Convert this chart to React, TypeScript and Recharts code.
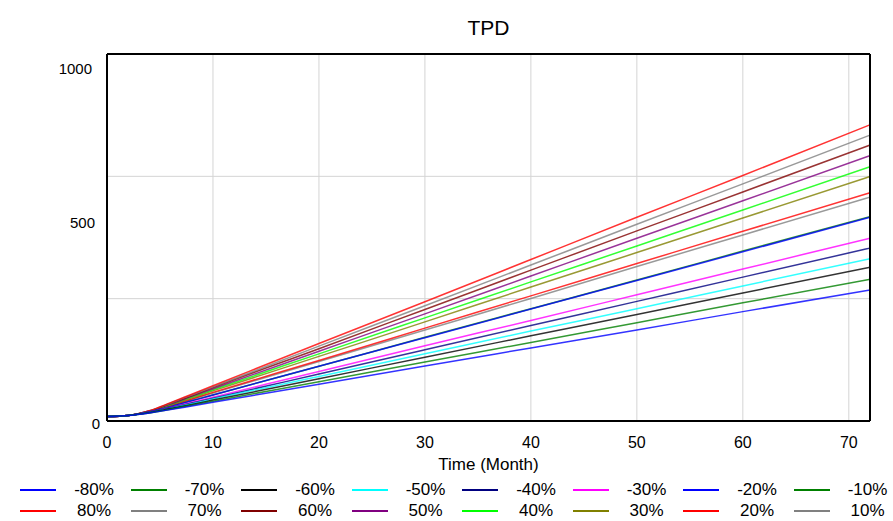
import React from "react";
import { LineChart, Line, XAxis, YAxis, CartesianGrid, ReferenceLine } from "recharts";

// months sampled along the x axis
const months = [0, 2, 4, 6, 8, 10, 20, 30, 40, 50, 60, 72];

// TPD per scenario
const neg80 = [12, 15, 22, 31, 41, 51, 100, 150, 199, 248, 298, 357];
const neg70 = [12, 15, 22, 32, 43, 54, 107, 161, 214, 268, 322, 386];
const neg60 = [12, 15, 23, 34, 45, 57, 115, 174, 232, 290, 349, 419];
const neg50 = [12, 15, 23, 35, 47, 60, 121, 183, 245, 306, 368, 442];
const neg40 = [12, 15, 24, 36, 49, 62, 128, 194, 260, 326, 392, 471];
const neg30 = [12, 15, 24, 37, 51, 65, 135, 205, 274, 344, 414, 498];
const neg20 = [12, 15, 25, 39, 55, 71, 149, 227, 305, 383, 461, 555];
const neg10 = [12, 15, 25, 39, 55, 71, 149, 228, 306, 384, 463, 557];
const pos80 = [12, 15, 28, 50, 73, 96, 211, 325, 440, 555, 669, 807];
const pos70 = [12, 15, 28, 49, 71, 93, 204, 314, 425, 536, 646, 779];
const pos60 = [12, 15, 27, 48, 69, 91, 197, 304, 411, 518, 624, 752];
const pos50 = [12, 15, 27, 46, 67, 88, 190, 292, 395, 498, 600, 723];
const pos40 = [12, 15, 26, 45, 65, 85, 183, 281, 379, 477, 575, 693];
const pos30 = [12, 15, 26, 44, 63, 82, 176, 270, 365, 459, 553, 666];
const pos20 = [12, 15, 26, 42, 60, 78, 165, 253, 341, 429, 517, 622];
const pos10 = [12, 15, 25, 42, 59, 76, 162, 248, 334, 421, 507, 610];

const xTicks = [0, 10, 20, 30, 40, 50, 60, 70];
const yTicks = [0, 500, 1000];
const yGrid = [1000 / 3, 2000 / 3];

// legend order (row 1 then row 2)
const series = [
  { key: "n80", label: "-80%", color: "#0000ff", values: neg80 },
  { key: "n70", label: "-70%", color: "#008000", values: neg70 },
  { key: "n60", label: "-60%", color: "#000000", values: neg60 },
  { key: "n50", label: "-50%", color: "#00ffff", values: neg50 },
  { key: "n40", label: "-40%", color: "#000080", values: neg40 },
  { key: "n30", label: "-30%", color: "#ff00ff", values: neg30 },
  { key: "n20", label: "-20%", color: "#0000ff", values: neg20 },
  { key: "n10", label: "-10%", color: "#008000", values: neg10 },
  { key: "p80", label: "80%", color: "#ff0000", values: pos80 },
  { key: "p70", label: "70%", color: "#808080", values: pos70 },
  { key: "p60", label: "60%", color: "#800000", values: pos60 },
  { key: "p50", label: "50%", color: "#800080", values: pos50 },
  { key: "p40", label: "40%", color: "#00ff00", values: pos40 },
  { key: "p30", label: "30%", color: "#808000", values: pos30 },
  { key: "p20", label: "20%", color: "#ff0000", values: pos20 },
  { key: "p10", label: "10%", color: "#808080", values: pos10 },
];

const data = months.map((m, i) => {
  const row: Record<string, number> = { month: m };
  series.forEach((s) => (row[s.key] = s.values[i]));
  return row;
});

const FONT = "'Liberation Sans', Arial, sans-serif";

// Vensim puts the y labels a bit off their gridline, mimic that
const YTick = (props: any) => {
  const { x, y, payload } = props;
  const dy: Record<number, number> = { 1000: 14, 500: -15, 0: 2 };
  const dx: Record<number, number> = { 1000: -7, 500: -4, 0: 1 };
  return (
    <text
      x={x + (dx[payload.value] || 0)}
      y={y + (dy[payload.value] || 0)}
      textAnchor="end"
      dominantBaseline="central"
      fontSize={15}
      fontFamily={FONT}
      fill="#000"
    >
      {payload.value}
    </text>
  );
};

export default function App() {
  const drawOrder = [...series].reverse();
  return (
    <div style={{ position: "absolute", left: 0, top: 0, width: 893, height: 521, background: "#fff", fontFamily: FONT, overflow: "hidden" }}>
      <div style={{ position: "absolute", left: 0, width: 977, top: 16, textAlign: "center", fontSize: 21, color: "#000" }}>
        TPD
      </div>
      <LineChart width={893} height={521} data={data} margin={{ top: 54, right: 23, bottom: 70, left: 47 }}>
        <CartesianGrid horizontal={false} stroke="#d4d4d4" strokeWidth={1} />
        {yGrid.map((v) => (
          <ReferenceLine key={v} y={v} stroke="#d4d4d4" strokeWidth={1} />
        ))}
        <XAxis
          dataKey="month"
          type="number"
          domain={[0, 72]}
          ticks={xTicks}
          height={30}
          tickLine={false}
          axisLine={{ stroke: "#000", strokeWidth: 2 }}
          tick={{ fontSize: 16, fill: "#000", fontFamily: FONT }}
          tickMargin={10}
        />
        <YAxis
          type="number"
          domain={[0, 1000]}
          ticks={yTicks}
          width={60}
          tickLine={false}
          axisLine={{ stroke: "#000", strokeWidth: 2 }}
          tick={<YTick />}
        />
        {drawOrder.map((s) => (
          <Line
            key={s.key}
            dataKey={s.key}
            type="monotone"
            stroke={s.color}
            strokeOpacity={0.8}
            strokeWidth={1.5}
            dot={false}
            isAnimationActive={false}
          />
        ))}
        <ReferenceLine y={1000} stroke="#000" strokeWidth={2} />
        <ReferenceLine x={72} stroke="#000" strokeWidth={2} />
      </LineChart>
      <div style={{ position: "absolute", left: 0, width: 977, top: 455, textAlign: "center", fontSize: 17, color: "#000" }}>
        Time (Month)
      </div>
      {series.map((s, i) => {
        const col = i % 8;
        const row = Math.floor(i / 8);
        const left = 20 + col * 110.5;
        const mid = 490 + row * 21;
        return (
          <React.Fragment key={s.key}>
            <div style={{ position: "absolute", left, top: mid - 1, width: 36, height: 2, background: s.color }} />
            <div
              style={{
                position: "absolute",
                left: left + 44,
                top: mid - 9,
                width: 60,
                textAlign: "center",
                fontSize: 17,
                lineHeight: "18px",
                color: "#000",
              }}
            >
              {s.label}
            </div>
          </React.Fragment>
        );
      })}
    </div>
  );
}
